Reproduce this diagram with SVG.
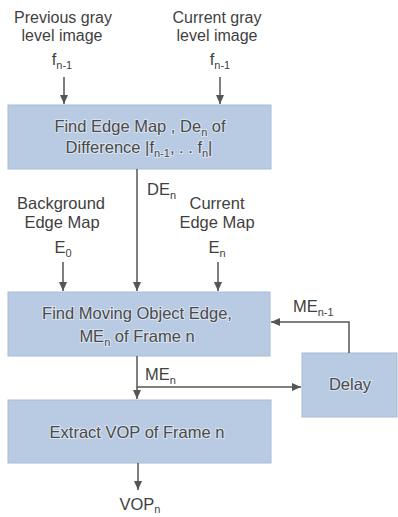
<svg xmlns="http://www.w3.org/2000/svg" width="398" height="517" viewBox="0 0 398 517">
<style>
text{font-family:"Liberation Sans",Arial,sans-serif;font-size:16.5px;fill:#3f3f3f}
.m{text-anchor:middle}
.t{font-size:16px}
.b{fill:#4a4a4a;stroke:#e8eef7;stroke-width:2;paint-order:stroke;stroke-opacity:0.7}
.s{font-size:11px}
.box{fill:#b8cbe3;stroke:#a7bcd6;stroke-width:1}
.ln{fill:none;stroke:#555;stroke-width:1.5}
</style>
<defs>
<marker id="ah" markerUnits="userSpaceOnUse" markerWidth="10" markerHeight="10" refX="9" refY="4" orient="auto">
<path d="M0,0 L9,4 L0,8 z" fill="#555"/>
</marker>
</defs>
<g id="input-prev">
<text class="m t" x="63" y="23">Previous gray</text>
<text class="m t" x="62" y="41">level image</text>
<text class="m" x="62" y="65">f<tspan class="s" dy="4">n-1</tspan></text>
</g>
<g id="input-cur">
<text class="m t" x="217" y="23">Current gray</text>
<text class="m t" x="217" y="41">level image</text>
<text class="m" x="220" y="65">f<tspan class="s" dy="4">n-1</tspan></text>
</g>
<g id="find-edge-map">
<rect class="box" x="8" y="105" width="263" height="64"/>
<text class="m b" x="140" y="132">Find Edge Map , De<tspan class="s" dy="4">n</tspan><tspan dy="-4"> of</tspan></text>
<text class="m b" x="139" y="153">Difference |f<tspan class="s" dy="4">n-1</tspan><tspan dy="-4">, . . f</tspan><tspan class="s" dy="4">n</tspan><tspan dy="-4">|</tspan></text>
</g>
<g id="background-edge">
<text class="m" x="61" y="209">Background</text>
<text class="m" x="62" y="228">Edge Map</text>
<text class="m" x="63" y="253">E<tspan class="s" dy="4">0</tspan></text>
</g>
<g id="current-edge">
<text class="m" x="217" y="209">Current</text>
<text class="m" x="217" y="228">Edge Map</text>
<text class="m" x="217" y="253">E<tspan class="s" dy="4">n</tspan></text>
</g>
<g id="find-moving">
<rect class="box" x="8" y="292" width="262" height="64"/>
<text class="m b" x="137" y="319">Find Moving Object Edge,</text>
<text class="m b" x="137" y="342">ME<tspan class="s" dy="4">n</tspan><tspan dy="-4"> of Frame n</tspan></text>
</g>
<g id="delay">
<rect class="box" x="302" y="353" width="95" height="64"/>
<text class="m b" x="350" y="390">Delay</text>
</g>
<g id="extract-vop">
<rect class="box" x="8" y="400" width="263" height="63"/>
<text class="m b" x="137" y="438">Extract VOP of Frame n</text>
</g>
<g id="output">
<text class="m" x="140" y="510">VOP<tspan class="s" dy="3">n</tspan></text>
</g>
<g id="connectors">
<path class="ln" d="M64,77 V104" marker-end="url(#ah)"/>
<path class="ln" d="M220,77 V104" marker-end="url(#ah)"/>
<path class="ln" d="M137,169 V291" marker-end="url(#ah)"/>
<path class="ln" d="M63,262 V291" marker-end="url(#ah)"/>
<path class="ln" d="M218,262 V291" marker-end="url(#ah)"/>
<path class="ln" d="M137,356 V399" marker-end="url(#ah)"/>
<path class="ln" d="M137,387 H301" marker-end="url(#ah)"/>
<path class="ln" d="M349,353 V322 H271" marker-end="url(#ah)"/>
<path class="ln" d="M138,463 V490" marker-end="url(#ah)"/>
<text x="147" y="195">DE<tspan class="s" dy="4">n</tspan></text>
<text x="145" y="380">ME<tspan class="s" dy="4">n</tspan></text>
<text x="293" y="312">ME<tspan class="s" dy="4">n-1</tspan></text>
</g>
</svg>
